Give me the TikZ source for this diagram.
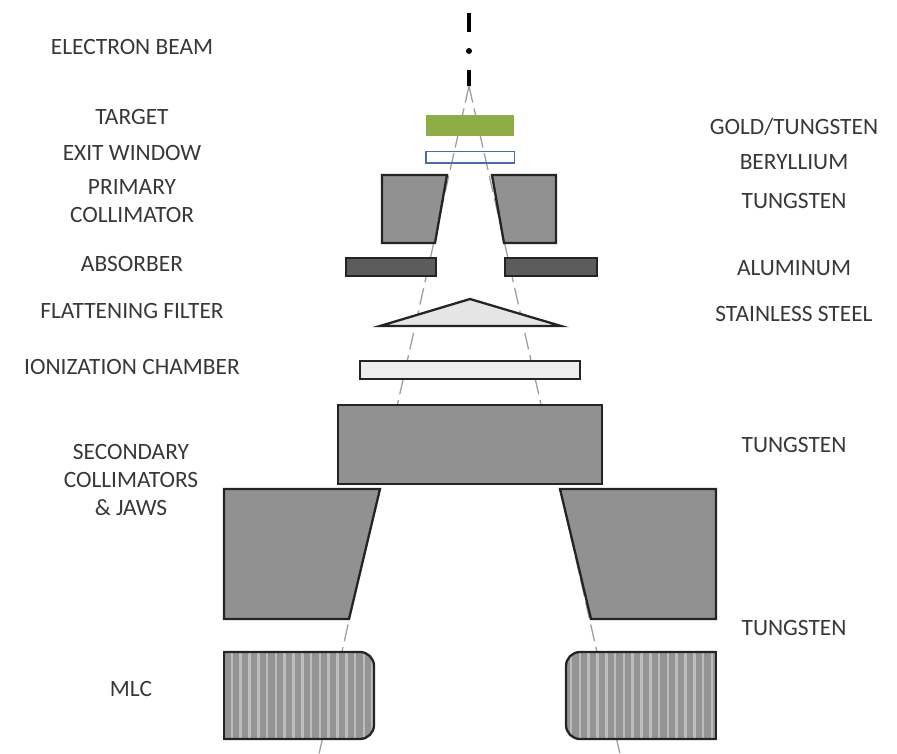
\documentclass[tikz,border=0pt]{standalone}
\usepackage{fontspec}
\setmainfont{Carlito}
\definecolor{metal}{gray}{0.57}
\definecolor{dark}{gray}{0.36}
\definecolor{edge}{gray}{0.14}
\definecolor{greenT}{HTML}{8DAD47}
\definecolor{blueW}{HTML}{4A68B4}
\tikzset{
 lab/.style={font=\fontsize{23.4}{28}\selectfont,text=black!78,inner sep=0pt,align=center},
 part/.style={draw=edge,line width=2.3pt,line join=miter},
 beamline/.style={draw=black!38,line width=1.3pt,dash pattern=on 17pt off 6pt},
 beamcore/.style={draw=black,line width=4.8pt}
}
\begin{document}
\begin{tikzpicture}[x=1pt,y=-1pt]
\useasboundingbox (0,0) rectangle (897,754);
\coordinate (apex) at (469,86);
\coordinate (bl) at (319,754);
\coordinate (br) at (620,754);
\draw[beamline] (apex) -- (bl);
\draw[beamline] (apex) -- (br);
\draw[beamcore] (469,13) -- (469,32);
\fill[black] (469,51) circle (3pt);
\draw[beamcore] (469,70) -- (469,86);
% target and window
\fill[greenT] (426,115) rectangle (514,136);
\draw[draw=blueW,line width=1.8pt] (426,151.5) rectangle (514.5,163);
% primary collimator
\draw[part,fill=metal] (382,175) -- (447,175) -- (435,243) -- (382,243) -- cycle;
\draw[part,fill=metal] (492,175) -- (556,175) -- (556,243) -- (504,243) -- cycle;
% absorber
\draw[part,fill=dark] (346,258) rectangle (436,276);
\draw[part,fill=dark] (505,258) rectangle (597,276);
% filter
\draw[part,fill=black!10] (380,326) -- (470,299) -- (561,326) -- cycle;
% chamber
\draw[part,fill=black!7] (360,361) rectangle (580,379);
% secondary
\draw[part,fill=metal] (338,405) rectangle (602,484);
\draw[part,fill=metal] (224,489) -- (380,489) -- (349,619) -- (224,619) -- cycle;
\draw[part,fill=metal] (560,489) -- (716,489) -- (716,619) -- (591,619) -- cycle;
% MLC
\begin{scope}
\clip[rounded corners=14pt] (215,652) rectangle (374,739);
\fill[black!42] (224,652) rectangle (374,739);
\foreach \k in {0,...,16} \fill[black!26] ({230.5+8.8*\k},652) rectangle ++(2.6,87);
\end{scope}
\draw[part,rounded corners=14pt] (224,652) -- (374,652) -- (374,739) -- (224,739);
\draw[part] (224,651) -- (224,740);
\begin{scope}
\clip[rounded corners=14pt] (566,652) rectangle (725,739);
\fill[black!42] (566,652) rectangle (716,739);
\foreach \k in {0,...,16} \fill[black!26] ({710.5-8.8*\k},652) rectangle ++(2.6,87);
\end{scope}
\draw[part,rounded corners=14pt] (716,652) -- (566,652) -- (566,739) -- (716,739);
\draw[part] (716,651) -- (716,740);
% labels left
\node[lab] (l1) at (132,47) {ELECTRON BEAM};
\node[lab] (l2) at (132,117) {TARGET};
\node[lab] (l3) at (132,153) {EXIT WINDOW};
\node[lab] (l4) at (132,201) {PRIMARY\\COLLIMATOR};
\node[lab] (l5) at (132,264) {ABSORBER};
\node[lab] (l6) at (132,311) {FLATTENING FILTER};
\node[lab] (l7) at (132,367) {IONIZATION CHAMBER};
\node[lab] (l8) at (131,480) {SECONDARY\\COLLIMATORS\\\& JAWS};
\node[lab] (l9) at (131,689) {MLC};
% labels right
\node[lab] (r1) at (794,127) {GOLD/TUNGSTEN};
\node[lab] (r2) at (794,162) {BERYLLIUM};
\node[lab] (r3) at (794,201) {TUNGSTEN};
\node[lab] (r4) at (794,268) {ALUMINUM};
\node[lab] (r5) at (794,314) {STAINLESS STEEL};
\node[lab] (r6) at (794,445) {TUNGSTEN};
\node[lab] (r7) at (794,628) {TUNGSTEN};
\end{tikzpicture}
\end{document}
